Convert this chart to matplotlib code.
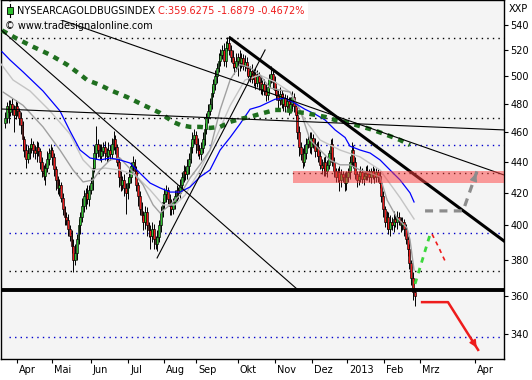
import matplotlib
matplotlib.use('Agg')
import matplotlib.pyplot as plt
from matplotlib.patches import Rectangle
from matplotlib import transforms

# daily closes of NYSE Arca Gold BUGS index, bar 0 = late March 2012
closes = [470, 478, 474, 480, 476, 472, 478, 475, 470, 465,
          455, 448, 442, 446, 449, 452, 448, 446, 450, 447,
          440, 434, 431, 436, 442, 446, 448, 443, 435, 428,
          423, 425, 417, 410, 405, 403, 398, 394, 388, 380,
          384, 392, 400, 405, 412, 418, 420, 416, 422, 426,
          436, 446, 452, 448, 444, 447, 450, 446, 444, 448,
          445, 452, 455, 450, 440, 430, 425, 428, 423, 420,
          426, 430, 437, 440, 434, 425, 418, 410, 406, 402,
          408, 400, 397, 394, 398, 392, 389, 393, 400, 408,
          414, 419, 422, 416, 412, 410, 414, 418, 422, 420,
          425, 430, 434, 432, 437, 442, 450, 455, 458, 452,
          448, 445, 449, 455, 462, 470, 475, 480, 488, 494,
          500, 506, 512, 516, 520, 512, 522, 526, 520, 515,
          510, 507, 512, 515, 510, 514, 508, 511, 506, 500,
          504, 498, 502, 495, 500, 496, 491, 494, 489, 486,
          492, 498, 502, 496, 490, 486, 483, 487, 480, 484,
          478, 482, 476, 480, 485, 478, 472, 460, 450, 445,
          440, 446, 452, 455, 450, 456, 452, 447, 450, 444,
          438, 436, 440, 434, 438, 446, 452, 440, 434, 430,
          433, 428, 432, 430, 426, 430, 433, 440, 448, 440,
          432, 428, 431, 433, 429, 431, 434, 432, 430, 434,
          432, 430, 433, 431, 426, 418, 410, 402, 405, 398,
          402, 400, 404, 402, 405, 403, 400, 402, 398, 392,
          386, 378, 370, 362, 359.6275]
first_open = 466

wick_up = [4, 3, 5, 3, 4, 3, 5, 3, 2, 4,
           3, 2, 4, 5, 3, 4, 2, 3, 4, 3,
           2, 3, 4, 3, 5, 3, 4, 2, 3, 2,
           3, 4, 2, 3, 2, 3, 4, 2, 3, 4,
           5, 3, 4, 3, 5, 4, 3, 5, 3, 4,
           6, 5, 12, 3, 4, 5, 3, 4, 3, 5,
           3, 4, 6, 3, 2, 3, 4, 3, 4, 3,
           4, 5, 3, 4, 2, 3, 2, 3, 4, 3,
           4, 3, 2, 3, 4, 3, 2, 4, 3, 4,
           3, 4, 3, 2, 3, 4, 3, 4, 3, 2,
           4, 3, 4, 3, 5, 4, 3, 5, 4, 3,
           4, 3, 4, 5, 4, 3, 5, 4, 5, 4,
           5, 4, 6, 5, 4, 6, 5, 4, 5, 4,
           5, 4, 6, 3, 5, 4, 3, 5, 4, 3,
           4, 5, 3, 4, 5, 3, 4, 3, 4, 5,
           3, 4, 6, 3, 4, 3, 4, 5, 3, 4,
           3, 4, 3, 5, 4, 3, 2, 3, 4, 3,
           4, 5, 4, 3, 5, 4, 3, 4, 3, 4,
           3, 4, 3, 4, 3, 2, 3, 4, 3, 2,
           3, 4, 3, 2, 3, 4, 3, 4, 5, 3,
           3, 2, 3, 4, 3, 2, 3, 4, 3, 2,
           3, 4, 3, 2, 3, 2, 3, 2, 4, 3,
           4, 3, 5, 3, 4, 3, 2, 3, 2, 3,
           2, 3, 2, 3, 2]
wick_dn = [3, 4, 8, 3, 4, 12, 3, 4, 5, 6,
           8, 5, 6, 3, 4, 3, 5, 4, 6, 3,
           5, 4, 3, 6, 3, 4, 3, 5, 4, 6,
           4, 5, 3, 4, 5, 3, 4, 3, 4, 7,
           3, 4, 3, 5, 3, 4, 8, 3, 4, 3,
           4, 3, 4, 5, 3, 4, 3, 5, 4, 3,
           4, 3, 4, 5, 3, 6, 4, 3, 5, 13,
           4, 3, 4, 3, 5, 4, 6, 4, 3, 5,
           4, 6, 4, 8, 4, 6, 3, 4, 3, 4,
           3, 4, 5, 3, 6, 4, 3, 4, 3, 4,
           3, 4, 3, 4, 3, 5, 3, 4, 3, 6,
           4, 3, 4, 3, 4, 3, 4, 3, 4, 3,
           4, 5, 3, 4, 3, 4, 5, 3, 4, 4,
           4, 5, 3, 12, 6, 4, 3, 4, 5, 3,
           4, 3, 5, 4, 3, 6, 4, 5, 3, 4,
           3, 4, 3, 5, 4, 3, 8, 4, 3, 5,
           4, 3, 4, 3, 5, 4, 3, 5, 6, 4,
           4, 3, 4, 3, 4, 5, 3, 4, 3, 4,
           3, 4, 5, 3, 4, 3, 4, 3, 4, 3,
           3, 7, 4, 3, 5, 4, 3, 4, 3, 4,
           3, 4, 3, 4, 3, 4, 3, 4, 3, 4,
           3, 4, 3, 4, 3, 4, 5, 3, 4, 3,
           4, 3, 4, 3, 4, 3, 4, 3, 4, 3,
           4, 3, 4, 4, 5]

month_pos = [6.9, 26.9, 49.1, 70.3, 90.9, 109.1, 133.1, 154.3, 175.4, 195.4, 216.6, 237.1, 268.6]
month_labels = ['Apr', 'Mai', 'Jun', 'Jul', 'Aug', 'Sep', 'Okt', 'Nov', 'Dez', '2013', 'Feb', 'Mrz', 'Apr']
price_ticks = [340, 360, 380, 400, 420, 440, 460, 480, 500, 520, 540]

# moving averages (bar index, value)
ma_green_x = [-1.7, 6.9, 16, 25.7, 35.4, 42.9, 46.9, 54.3, 60, 69.7, 78.9, 88.6, 96, 100,
              105.7, 111.4, 117.1, 122.9, 128.6, 134.3, 140, 145.7, 154.3, 160, 165.7,
              171.4, 177.1, 182.9, 188.6, 194.3, 210.3, 218.3, 225.7, 231.4]
ma_green_y = [535.6, 529.0, 522.7, 516.5, 508.9, 501.5, 497.3, 493.6, 489.9, 484.8, 479.1, 473.4, 467.1, 465.0,
              463.6, 463.6, 462.9, 463.6, 467.1, 469.1, 470.6, 472.7, 475.5, 475.5, 474.1,
              473.4, 472.0, 470.6, 468.4, 467.1, 461.5, 458.0, 454.6, 451.2]
ma_blue_x = [-1.7, 2.9, 10.3, 21.7, 31.4, 37.1, 42.9, 48.6, 54.3, 60, 65.7, 71.4, 77.1, 82.9,
             88.6, 94.3, 100, 105.7, 111.4, 117.1, 122.9, 128.6, 134.3, 140, 145.7, 154.3,
             160, 165.7, 171.4, 177.1, 182.9, 188.6, 194.3, 197.1, 202.9, 208.6, 214.3, 220,
             225.7, 231.4, 233.7]
ma_blue_y = [518.8, 512.4, 503.4, 489.2, 474.8, 460.8, 447.8, 442.5, 441.2, 442.5, 441.2, 439.2, 432.6, 426.2,
             423.1, 420.5, 420.5, 423.7, 430.1, 434.6, 447.8, 456.3, 465.7, 476.0, 478.1, 483.2,
             483.9, 480.3, 476.0, 472.6, 468.4, 461.5, 456.3, 450.4, 447.8, 445.8, 441.2, 434.6,
             428.2, 420.0, 414.3]
ma_slow_x = [-2.3, 4.6, 14.3, 25.7, 37.1, 44.6, 50.3, 57.1, 65.7, 74.3, 82.9, 90.3, 97.1, 102.9,
             111.4, 120, 128.6, 137.1, 145.7, 154.3, 162.9, 171.4, 180, 191.4, 202.9, 214.3,
             225.7, 233.7]
ma_slow_y = [509.4, 497.3, 489.2, 474.8, 458.7, 441.2, 434.6, 435.9, 434.6, 431.4, 421.8, 412.5, 412.5, 418.6,
             434.6, 454.6, 478.5, 497.3, 501.0, 495.8, 488.4, 468.4, 454.6, 447.8, 443.2, 434.6,
             417.0, 403.9]
ma_fast_x = [-1.1, 10.3, 21.7, 31.4, 38.9, 44.6, 50.3, 54.3, 60, 65.7, 73.1, 78.9, 84.6, 88.6,
             94.3, 100, 105.7, 111.4, 117.1, 122.9, 128.6, 134.3, 140, 145.7, 151.4, 157.1,
             162.9, 168.6, 174.3, 180, 185.7, 191.4, 197.1, 202.9, 208.6, 214.3, 218.3, 224,
             229.7, 231.4, 233.7]
ma_fast_y = [488.4, 478.8, 463.6, 447.8, 434.6, 426.9, 428.2, 434.6, 441.2, 442.5, 433.3, 425.0, 412.5, 407.5,
             412.5, 418.6, 429.5, 438.0, 447.8, 475.5, 497.3, 508.9, 506.7, 501.0, 491.4, 489.9,
             488.4, 475.5, 454.6, 447.8, 441.2, 438.0, 438.0, 434.6, 432.6, 430.1, 415.5, 404.5,
             398.5, 391.4, 374.2]

# levels and drawn lines
black_levels = [529.6, 469.7, 432.9, 373.5]
blue_levels = [451.5, 395.6, 338.5]
support = 363.2
zone_low, zone_high, zone_start = 426.2, 434.0, 164.6
thin_lines = [[(-2.86, 536.8), (167.4, 363.2)],
              [(2.86, 558.9), (285.1, 431.4)],
              [(-2.3, 476.2), (285.1, 461.5)],
              [(86.9, 381.0), (148.6, 520.2)]]
thick_line = [(128.6, 529.6), (285.1, 390.8)]

# scenario sketch to the right of the last bar
up_leg_x, up_leg_y = [234.3, 242.9], [366.5, 394.8]
back_x, back_y = [244, 247.4, 251.4], [394.8, 387.9, 379.3]
gray_arrow_x, gray_arrow_y = [240, 261.7, 269.7], [408.8, 408.8, 434.0]
red_arrow_x, red_arrow_y = [238.3, 253.1, 270.3], [356.6, 356.6, 332.0]

plt.rcParams['font.family'] = 'DejaVu Sans'
fig = plt.figure(figsize=(5.32, 3.80), dpi=100)
ax = fig.add_axes([1 / 532, 21 / 380, 503 / 532, 359 / 380])
ax.set_facecolor('#f4f4f4')
ax.set_yscale('log')
ax.set_xlim(-2.29, 285.1)
ax.set_ylim(327.5, 560.6)

for lv in black_levels:
    ax.axhline(lv, xmin=0.015, color='black', lw=1, ls=(0, (1, 3)), zorder=1)
for lv in blue_levels:
    ax.axhline(lv, xmin=0.015, color='#0000cc', lw=1, ls=(0, (1, 3)), zorder=1)

# candles
n = len(closes)
xs = list(range(n))
opens = [first_open] + closes[:-1]
highs = [max(o, c) + u for o, c, u in zip(opens, closes, wick_up)]
lows = [min(o, c) - d for o, c, d in zip(opens, closes, wick_dn)]
cols = ['#2fbf2f' if c >= o else '#ee1c1c' for o, c in zip(opens, closes)]
ax.vlines(xs, lows, highs, color='black', lw=0.7, zorder=3)
ax.bar(xs, [max(abs(c - o), 0.6) for o, c in zip(opens, closes)],
       bottom=[min(o, c) for o, c in zip(opens, closes)], width=1.1,
       color=cols, edgecolor='black', linewidth=0.45, zorder=4)

ax.plot(ma_slow_x, ma_slow_y, color='#c4c4c4', lw=1, zorder=5)
ax.plot(ma_fast_x, ma_fast_y, color='#a0a0a0', lw=1, zorder=5)
ax.plot(ma_blue_x, ma_blue_y, color='#0000ff', lw=0.9, zorder=5)
ax.plot(ma_green_x, ma_green_y, color='#1f6f1f', lw=3.2, ls=(0, (1.3, 1.3)), zorder=5)

for seg in thin_lines:
    ax.plot([seg[0][0], seg[1][0]], [seg[0][1], seg[1][1]], color='black', lw=0.8, zorder=6)
ax.plot([thick_line[0][0], thick_line[1][0]], [thick_line[0][1], thick_line[1][1]],
        color='black', lw=2.2, zorder=6)
ax.axhline(support, color='black', lw=2.8, zorder=6)

ax.add_patch(Rectangle((zone_start, zone_low), 285.1 - zone_start, zone_high - zone_low,
                       facecolor='#ff4040', alpha=0.5, edgecolor='none', zorder=7))

ax.plot(up_leg_x, up_leg_y, color='#3cd83c', lw=2, ls=(0, (2, 2)), zorder=8)
ax.plot(back_x, back_y, color='#ee1c1c', lw=1.2, ls=(0, (2.5, 2.5)), zorder=8)
ax.plot(gray_arrow_x, gray_arrow_y, color='#8c8c8c', lw=2.3, ls=(0, (2.5, 2)), zorder=8)
ax.annotate('', xy=(gray_arrow_x[-1], gray_arrow_y[-1]),
            xytext=(gray_arrow_x[-2] + 0.7 * (gray_arrow_x[-1] - gray_arrow_x[-2]),
                    gray_arrow_y[-2] + 0.7 * (gray_arrow_y[-1] - gray_arrow_y[-2])),
            arrowprops=dict(arrowstyle='-|>', color='#8c8c8c', lw=1, mutation_scale=11), zorder=8)
ax.plot(red_arrow_x, red_arrow_y, color='#ee1c1c', lw=1.8, zorder=8)
ax.annotate('', xy=(red_arrow_x[-1], red_arrow_y[-1]),
            xytext=(red_arrow_x[-2] + 0.7 * (red_arrow_x[-1] - red_arrow_x[-2]),
                    red_arrow_y[-2] + 0.7 * (red_arrow_y[-1] - red_arrow_y[-2])),
            arrowprops=dict(arrowstyle='-|>', color='#ee1c1c', lw=1, mutation_scale=11), zorder=8)

# axes
ax.yaxis.tick_right()
ax.yaxis.set_minor_locator(matplotlib.ticker.NullLocator())
ax.set_yticks(price_ticks)
ax.set_yticklabels([str(p) for p in price_ticks])
ax.tick_params(axis='y', direction='out', length=3, width=0.8, pad=1.5, labelsize=7)
ax.set_xticks(month_pos)
ax.set_xticklabels(month_labels)
ax.tick_params(axis='x', direction='out', length=3, width=0.8, pad=1, labelsize=7)
shift = transforms.ScaledTranslation(2 / 100, 0, fig.dpi_scale_trans)
for lab in ax.get_xticklabels():
    lab.set_horizontalalignment('left')
    lab.set_transform(lab.get_transform() + shift)
for sp in ax.spines.values():
    sp.set_linewidth(1)

# header
fig.patches.append(Rectangle((3 / 532, 1 - 20 / 380), 305 / 532, 18 / 380,
                             transform=fig.transFigure, facecolor='white', edgecolor='none', zorder=9))
fig.lines.append(plt.Line2D([10 / 532, 10 / 532], [1 - 4 / 380, 1 - 17 / 380],
                            transform=fig.transFigure, color='black', lw=0.8, zorder=10))
fig.patches.append(Rectangle((7 / 532, 1 - 14 / 380), 6 / 532, 7 / 380, transform=fig.transFigure,
                             facecolor='#2fbf2f', edgecolor='black', lw=0.6, zorder=11))
name = fig.text(17 / 532, 1 - 11 / 380, 'NYSEARCAGOLDBUGSINDEX', fontsize=7, va='center', zorder=12)
close_txt = fig.text(0, 1 - 11 / 380, 'C:359.6275 -1.6879 -0.4672%', fontsize=7, va='center',
                     color='#ee1c1c', zorder=12)
fig.text(5 / 532, 1 - 26 / 380, '\u00a9 www.tradesignalonline.com', fontsize=7, va='center', zorder=12)
fig.text(509 / 532, 1 - 9 / 380, 'XXP', fontsize=7, va='center')

# place red close text right after the index name
fig.canvas.draw()
bb = name.get_window_extent().transformed(fig.transFigure.inverted())
close_txt.set_x(bb.x1 + 3 / 532)

plt.savefig('out.png', dpi=100)
